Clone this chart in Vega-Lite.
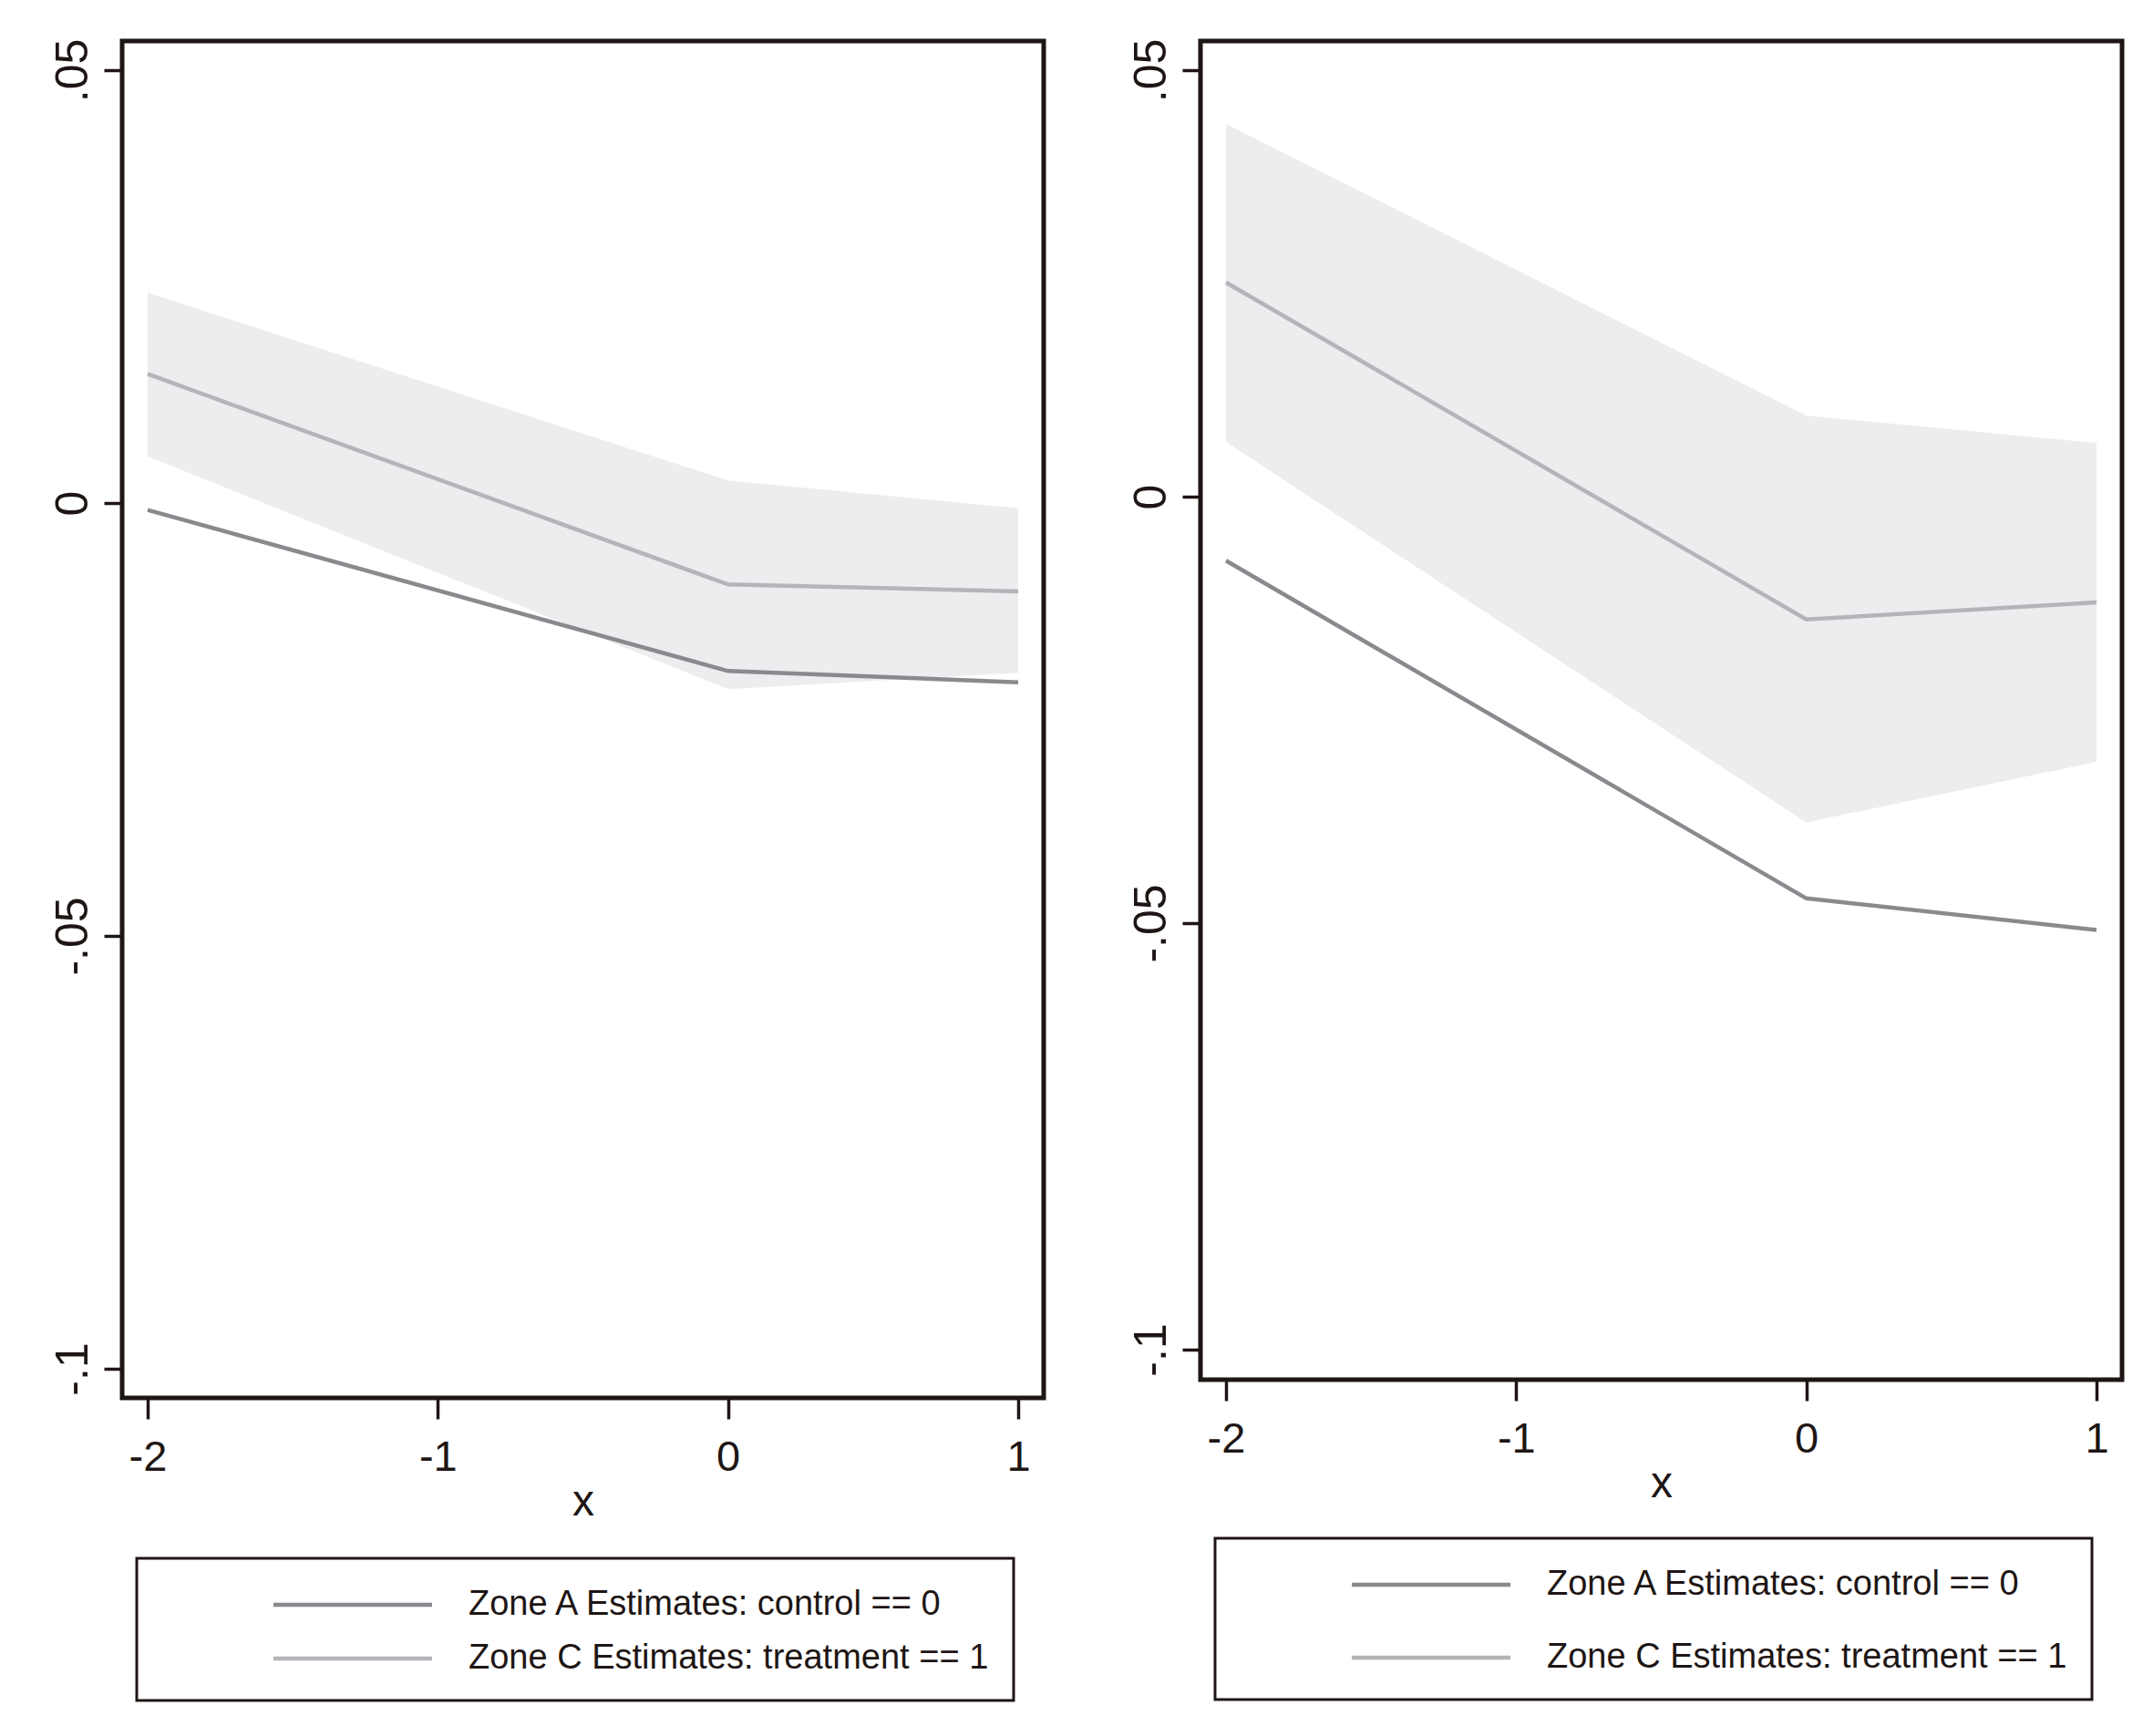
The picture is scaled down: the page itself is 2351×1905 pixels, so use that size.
{
  "$schema": "https://vega.github.io/schema/vega-lite/v6.json",
  "background": "white",
  "autosize": {"type": "pad"},
  "padding": {"left": 52, "top": 39, "right": 0, "bottom": 0},
  "spacing": 87,
  "resolve": {"legend": {"color": "independent"}, "scale": {"color": "independent", "y": "independent"}},
  "datasets": {
    "left_lines": [
      {"x": -2, "est": -0.0008, "series": "Zone A Estimates: control == 0"},
      {"x": 0, "est": -0.0194, "series": "Zone A Estimates: control == 0"},
      {"x": 1, "est": -0.0207, "series": "Zone A Estimates: control == 0"},
      {"x": -2, "est": 0.0149, "series": "Zone C Estimates: treatment == 1"},
      {"x": 0, "est": -0.0094, "series": "Zone C Estimates: treatment == 1"},
      {"x": 1, "est": -0.0102, "series": "Zone C Estimates: treatment == 1"}
    ],
    "left_band": [
      {"x": -2, "lo": 0.0054, "hi": 0.0243},
      {"x": 0, "lo": -0.0215, "hi": 0.0026},
      {"x": 1, "lo": -0.0196, "hi": -0.0006}
    ],
    "right_lines": [
      {"x": -2, "est": -0.0075, "series": "Zone A Estimates: control == 0"},
      {"x": 0, "est": -0.0471, "series": "Zone A Estimates: control == 0"},
      {"x": 1, "est": -0.0508, "series": "Zone A Estimates: control == 0"},
      {"x": -2, "est": 0.0251, "series": "Zone C Estimates: treatment == 1"},
      {"x": 0, "est": -0.0144, "series": "Zone C Estimates: treatment == 1"},
      {"x": 1, "est": -0.0124, "series": "Zone C Estimates: treatment == 1"}
    ],
    "right_band": [
      {"x": -2, "lo": 0.0064, "hi": 0.0437},
      {"x": 0, "lo": -0.0382, "hi": 0.0095},
      {"x": 1, "lo": -0.0311, "hi": 0.0063}
    ]
  },
  "config": {
    "font": "Liberation Sans",
    "view": {"stroke": "#1e1614", "strokeWidth": 5, "fill": "white"},
    "axis": {
      "grid": false,
      "domain": false,
      "tickColor": "#1e1614",
      "tickWidth": 3.5,
      "labelColor": "#1e1614",
      "titleColor": "#1e1614",
      "labelFont": "Liberation Sans",
      "titleFont": "Liberation Sans",
      "titleFontWeight": "normal",
      "labelOverlap": false,
      "labelFlush": false
    }
  },
  "hconcat": [
    {
      "width": 1011,
      "height": 1489,
      "layer": [
        {
          "data": {"name": "left_band"},
          "mark": {"type": "area", "color": "#ededef", "opacity": 1},
          "encoding": {
            "x": {"field": "x", "type": "quantitative", "scale": {"domain": [-2.088, 1.088], "nice": false, "zero": false},
              "axis": {"values": [-2, -1, 0, 1], "labelExpr": "toString(datum.value)", "tickSize": 23, "labelFontSize": 47, "labelPadding": 19, "title": "x", "titleFontSize": 48, "titlePadding": 2}},
            "y": {"field": "lo", "type": "quantitative", "scale": {"domain": [-0.10337, 0.05337], "nice": false, "zero": false},
              "axis": {"values": [-0.1, -0.05, 0, 0.05], "labelExpr": "replace(toString(datum.value), '0.', '.')", "tickSize": 20, "labelAngle": -90, "labelAlign": "center", "labelBaseline": "alphabetic", "labelPadding": 19, "labelFontSize": 50, "title": null}},
            "y2": {"field": "hi"}
          }
        },
        {
          "data": {"name": "left_lines"},
          "mark": {"type": "line", "strokeWidth": 4.5},
          "encoding": {
            "x": {"field": "x", "type": "quantitative"},
            "y": {"field": "est", "type": "quantitative"},
            "color": {"field": "series", "type": "nominal",
              "scale": {"domain": ["Zone A Estimates: control == 0", "Zone C Estimates: treatment == 1"], "range": ["#8a898e", "#b4b4b9"]},
              "legend": {"orient": "none", "legendX": 16, "legendY": 1665, "title": null, "direction": "vertical",
                "symbolType": "M-4,0H4", "symbolSize": 1892, "symbolStrokeWidth": 4.5,
                "labelFontSize": 38, "labelFont": "Liberation Sans", "labelColor": "#1e1614", "labelLimit": 0,
                "padding": 27, "rowPadding": 16, "symbolOffset": 186, "labelOffset": 103,
                "strokeColor": "#1e1614", "fillColor": "white",
                "encode": {"legend": {"update": {"strokeWidth": {"value": 3}}}}}
            }
          }
        }
      ]
    },
    {
      "width": 1011,
      "height": 1469,
      "layer": [
        {
          "data": {"name": "right_band"},
          "mark": {"type": "area", "color": "#ededef", "opacity": 1},
          "encoding": {
            "x": {"field": "x", "type": "quantitative", "scale": {"domain": [-2.088, 1.088], "nice": false, "zero": false},
              "axis": {"values": [-2, -1, 0, 1], "labelExpr": "toString(datum.value)", "tickSize": 23, "labelFontSize": 47, "labelPadding": 19, "title": "x", "titleFontSize": 48, "titlePadding": 2}},
            "y": {"field": "lo", "type": "quantitative", "scale": {"domain": [-0.10353, 0.05342], "nice": false, "zero": false},
              "axis": {"values": [-0.1, -0.05, 0, 0.05], "labelExpr": "replace(toString(datum.value), '0.', '.')", "tickSize": 20, "labelAngle": -90, "labelAlign": "center", "labelBaseline": "alphabetic", "labelPadding": 19, "labelFontSize": 50, "title": null}},
            "y2": {"field": "hi"}
          }
        },
        {
          "data": {"name": "right_lines"},
          "mark": {"type": "line", "strokeWidth": 4.5},
          "encoding": {
            "x": {"field": "x", "type": "quantitative"},
            "y": {"field": "est", "type": "quantitative"},
            "color": {"field": "series", "type": "nominal",
              "scale": {"domain": ["Zone A Estimates: control == 0", "Zone C Estimates: treatment == 1"], "range": ["#8a898e", "#b4b4b9"]},
              "legend": {"orient": "none", "legendX": 16, "legendY": 1643, "title": null, "direction": "vertical",
                "symbolType": "M-4,0H4", "symbolSize": 1892, "symbolStrokeWidth": 4.5,
                "labelFontSize": 38, "labelFont": "Liberation Sans", "labelColor": "#1e1614", "labelLimit": 0,
                "padding": 27, "rowPadding": 37, "symbolOffset": 186, "labelOffset": 103,
                "strokeColor": "#1e1614", "fillColor": "white",
                "encode": {"legend": {"update": {"strokeWidth": {"value": 3}}}}}
            }
          }
        }
      ]
    }
  ]
}
